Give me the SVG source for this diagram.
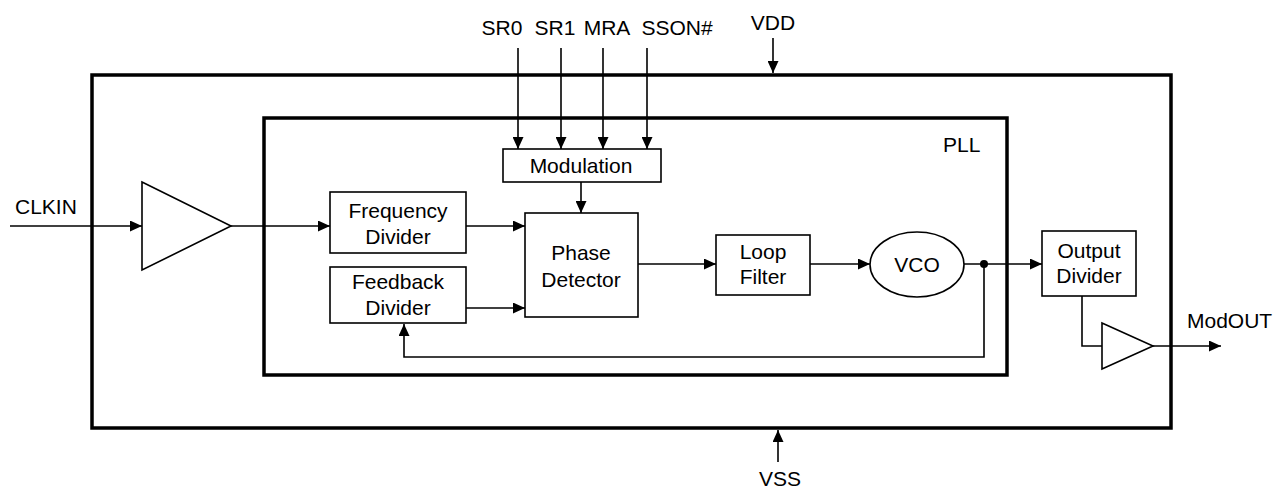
<svg xmlns="http://www.w3.org/2000/svg" width="1273" height="489" viewBox="0 0 1273 489">
<style>
  text { font-family: "Liberation Sans", Arial, Helvetica, sans-serif; font-size: 21px; fill: #000; }
  .c { text-anchor: middle; }
  .frame { fill: none; stroke: #000; stroke-width: 3.5; }
  .blk { fill: #fff; stroke: #000; stroke-width: 1.6; }
  .wire { fill: none; stroke: #000; stroke-width: 1.6; }
  .arr { marker-end: url(#ah); }
</style>
<defs>
  <marker id="ah" markerUnits="userSpaceOnUse" markerWidth="13" markerHeight="11" refX="12" refY="5.5" orient="auto">
    <path d="M0,0 L12,5.5 L0,11 z" fill="#000"/>
  </marker>
</defs>
<rect width="1273" height="489" fill="#fff"/>

<g id="chip">
  <rect class="frame" x="92" y="75" width="1079" height="353"/>
</g>
<g id="pll">
  <rect class="frame" x="264" y="118" width="743" height="257"/>
  <text x="943" y="152">PLL</text>
</g>

<g id="connectors">
  <path class="wire arr" d="M10,226 H142"/>
  <path class="wire arr" d="M231,226 H330"/>
  <path class="wire arr" d="M466,226 H525"/>
  <path class="wire arr" d="M466,308 H525"/>
  <path class="wire arr" d="M518,48 V149"/>
  <path class="wire arr" d="M561,48 V149"/>
  <path class="wire arr" d="M603,48 V149"/>
  <path class="wire arr" d="M647,48 V149"/>
  <path class="wire arr" d="M581,182 V213"/>
  <path class="wire arr" d="M638,264 H716"/>
  <path class="wire arr" d="M810,264 H870"/>
  <path class="wire arr" d="M964,264 H1042"/>
  <circle cx="984" cy="264" r="4" fill="#000"/>
  <path class="wire arr" d="M984,264 V357 H404 V324"/>
  <path class="wire" d="M1082,296 V346 H1102"/>
  <path class="wire arr" d="M1153,346 H1221"/>
  <path class="wire arr" d="M773,38 V73"/>
  <path class="wire arr" d="M778,462 V430"/>
</g>

<g id="labels">
  <text x="15" y="214">CLKIN</text>
  <text class="c" x="502" y="35">SR0</text>
  <text class="c" x="555" y="35">SR1</text>
  <text class="c" x="607" y="35">MRA</text>
  <text class="c" x="677" y="35">SSON#</text>
  <text class="c" x="773" y="30">VDD</text>
  <text class="c" x="780" y="486">VSS</text>
  <text x="1187" y="328">ModOUT</text>
</g>

<g id="input-buffer">
  <path class="blk" d="M142,182 L231,226 L142,270 z"/>
</g>
<g id="frequency-divider">
  <rect class="blk" x="330" y="192" width="136" height="61"/>
  <text class="c" x="398" y="218">Frequency</text>
  <text class="c" x="398" y="244">Divider</text>
</g>
<g id="feedback-divider">
  <rect class="blk" x="330" y="267" width="136" height="56"/>
  <text class="c" x="398" y="289">Feedback</text>
  <text class="c" x="398" y="315">Divider</text>
</g>
<g id="modulation">
  <rect class="blk" x="503" y="149" width="158" height="33"/>
  <text class="c" x="581" y="173">Modulation</text>
</g>
<g id="phase-detector">
  <rect class="blk" x="525" y="213" width="113" height="104"/>
  <text class="c" x="581" y="260">Phase</text>
  <text class="c" x="581" y="287">Detector</text>
</g>
<g id="loop-filter">
  <rect class="blk" x="716" y="235" width="94" height="60"/>
  <text class="c" x="763" y="259">Loop</text>
  <text class="c" x="763" y="284">Filter</text>
</g>
<g id="vco">
  <ellipse class="blk" cx="917" cy="264.5" rx="47" ry="32.5"/>
  <text class="c" x="917" y="272">VCO</text>
</g>
<g id="output-divider">
  <rect class="blk" x="1042" y="231" width="94" height="65"/>
  <text class="c" x="1089" y="258">Output</text>
  <text class="c" x="1089" y="283">Divider</text>
</g>
<g id="output-buffer">
  <path class="blk" d="M1102,323 L1153,346 L1102,369 z"/>
</g>
</svg>
